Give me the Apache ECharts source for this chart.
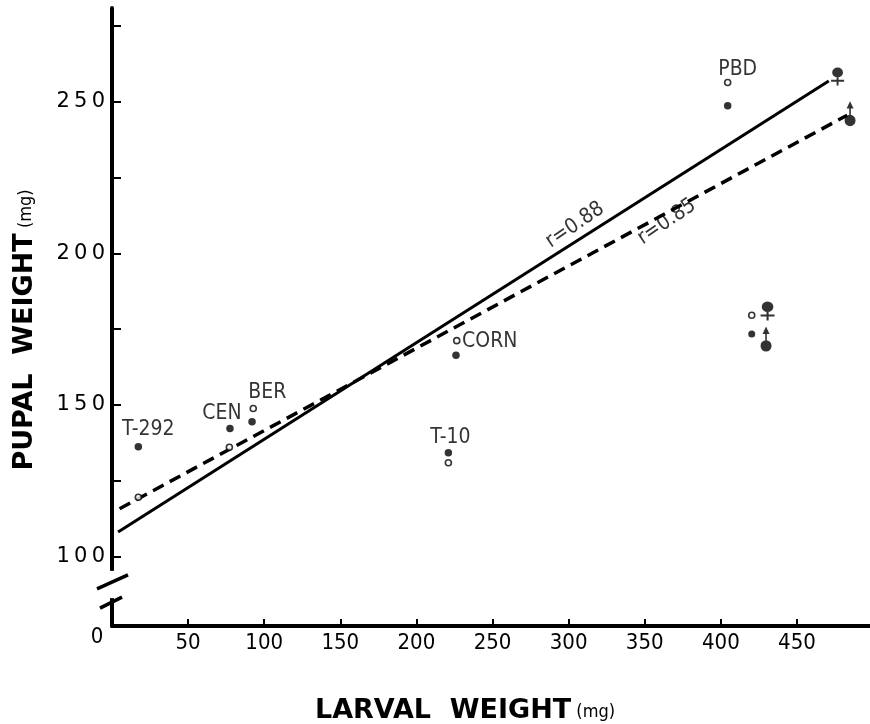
<!DOCTYPE html>
<html><head><meta charset="utf-8">
<script src="https://cdn.jsdelivr.net/npm/echarts@6/dist/echarts.min.js"></script>
<style>html,body{margin:0;padding:0;background:#fff}#c{width:870px;height:724px}</style>
</head><body><div id="c"></div>
<script>
// ---- data ----
const strains      = ['T-292', 'CEN', 'BER', 'T-10', 'CORN', 'PBD'];
const larvalFemale = [17.3, 77.1, 92.8, 221, 226.5, 404.5];
const pupalFemale  = [119.5, 136.0, 148.8, 130.9, 171.2, 256.4];
const larvalMale   = [17.3, 77.5, 92.0, 221, 226.0, 404.5];
const pupalMale    = [136.2, 142.2, 144.4, 134.2, 166.4, 248.7];
const femaleFit    = [[4, 108.0], [470.9, 256.9]];   // r=0.88
const maleFit      = [[5, 115.7], [483, 245.6]];     // r=0.85
const fitLabels    = ['r=0.88', 'r=0.85'];
const fitLabelAt   = [[304.2, 209.3], [364.5, 210.4]];
const sexSymbolAt  = [[476.7, 258.4], [484.9, 246.1]];   // ♀ / ♂ at line ends
const keyPointAt   = [[420.3, 179.6], [420.3, 173.4]];   // key: open = ♀, filled = ♂
const keySymbolAt  = [[430.7, 181.0], [429.7, 171.7]];
const xTicks  = [50, 100, 150, 200, 250, 300, 350, 400, 450];
const yTicks  = [100, 125, 150, 175, 200, 225, 250, 275];
const yLabels = [100, 150, 200, 250];

// ---- styling (not data) ----
const labelSide = { // which sex's point carries the strain label, and pixel offset
  'T-292': ['m', [10, -17]], 'CEN': ['m', [-8, -15]], 'BER': ['f', [14, -16]],
  'T-10': ['m', [2, -15]], 'CORN': ['f', [33, 1]], 'PBD': ['f', [10, -13]]
};
const FEMALE = 'path://M2,5 A5,5 0 1,1 12,5 A5,5 0 1,1 2,5 Z M6.1,9 L7.9,9 L7.9,18 L6.1,18 Z M1,12.3 L13,12.3 L13,14.2 L1,14.2 Z';
const MALE = 'path://M6,0 L9.5,7 L2.5,7 Z M5.2,5 L6.8,5 L6.8,14 L5.2,14 Z M0.5,18.5 A5.5,5.5 0 1,1 11.5,18.5 A5.5,5.5 0 1,1 0.5,18.5 Z';
const COND = 'DejaVu Sans Condensed';

function pts(xs, ys, sex) {
  return xs.map((x, i) => {
    const name = strains[i];
    const item = { name, value: [x, ys[i]] };
    const ls = labelSide[name];
    if (ls && ls[0] === sex) {
      item.label = { show: true, formatter: name, position: 'inside', offset: ls[1],
        color: '#000', fontFamily: COND, fontSize: 21 };
    }
    return item;
  });
}

const chart = echarts.init(document.getElementById('c'), null, { renderer: 'canvas' });
const option = {
  animation: false,
  backgroundColor: '#fff',
  grid: { left: 112, right: 0, top: 8, bottom: 98, containLabel: false, outerBoundsMode: 'none' },
  xAxis: {
    type: 'value', min: 0, max: 498,
    axisLine: { show: true, onZero: false, lineStyle: { color: '#000', width: 4 } },
    axisTick: { show: true, inside: true, length: 7, customValues: xTicks, lineStyle: { color: '#000', width: 2 } },
    axisLabel: { customValues: xTicks, color: '#000', fontFamily: COND, fontSize: 22, margin: 6 },
    splitLine: { show: false },
    name: '{b|LARVAL  WEIGHT}{s| (mg)}',
    nameLocation: 'middle', nameGap: 71,
    nameTextStyle: { padding: [0, 52, 0, 0],
      rich: { b: { fontFamily: 'DejaVu Sans', fontWeight: 'bold', fontSize: 27, color: '#000' },
              s: { fontFamily: COND, fontSize: 18, color: '#000', padding: [4, 0, 0, 0] } } }
  },
  yAxis: {
    type: 'value', min: 77, max: 281,
    axisLine: { show: true, onZero: false, lineStyle: { color: '#000', width: 4 } },
    axisTick: { show: true, inside: true, length: 9, customValues: yTicks, lineStyle: { color: '#000', width: 2 } },
    axisLabel: { customValues: yLabels, color: '#000', fontFamily: 'DejaVu Sans', fontSize: 21, margin: 7,
      formatter: v => String(v).split('').join('\u2009') },
    splitLine: { show: false },
    name: '{b|PUPAL  WEIGHT}{s| (mg)}',
    nameLocation: 'middle', nameGap: 74, nameRotate: 90,
    nameTextStyle: { padding: [0, 26, 0, 0],
      rich: { b: { fontFamily: 'DejaVu Sans', fontWeight: 'bold', fontSize: 27, color: '#000' },
              s: { fontFamily: COND, fontSize: 18, color: '#000', padding: [4, 0, 0, 0] } } }
  },
  series: [
    { type: 'line', data: femaleFit, symbol: 'none', clip: false, z: 2,
      lineStyle: { color: '#000', width: 3 } },
    { type: 'line', data: maleFit, symbol: 'none', clip: false, z: 2,
      lineStyle: { color: '#000', width: 3.5, type: [12, 7] } },
    { type: 'scatter', name: '♀', data: pts(larvalFemale, pupalFemale, 'f'), symbol: 'circle', symbolSize: 6, z: 4,
      itemStyle: { color: '#fff', borderColor: '#000', borderWidth: 1.6 } },
    { type: 'scatter', name: '♂', data: pts(larvalMale, pupalMale, 'm'), symbol: 'circle', symbolSize: 7.5, z: 4,
      itemStyle: { color: '#000' } },
    { type: 'scatter', data: fitLabelAt.map((p, i) => ({ value: p, name: fitLabels[i] })), symbolSize: 0, z: 5,
      label: { show: true, position: 'inside', formatter: '{b}', rotate: 34, color: '#000',
        fontFamily: COND, fontSize: 21 } },
    { type: 'scatter', clip: false, z: 5, itemStyle: { color: '#000' },
      data: [
        { value: sexSymbolAt[0], symbol: FEMALE, symbolSize: [13, 18] },
        { value: sexSymbolAt[1], symbol: MALE, symbolSize: [11, 25] },
        { value: keySymbolAt[0], symbol: FEMALE, symbolSize: [14, 19] },
        { value: keySymbolAt[1], symbol: MALE, symbolSize: [11, 25] }
      ] },
    { type: 'scatter', z: 5,
      data: [
        { value: keyPointAt[0], symbol: 'circle', symbolSize: 6, itemStyle: { color: '#fff', borderColor: '#000', borderWidth: 1.6 } },
        { value: keyPointAt[1], symbol: 'circle', symbolSize: 7, itemStyle: { color: '#000' } }
      ] }
  ]
};
chart.setOption(option);

// axis break and origin label
const brkTop = chart.convertToPixel({ gridIndex: 0 }, [0, 95.2]);
const brkBot = chart.convertToPixel({ gridIndex: 0 }, [0, 86.2]);
const origin = chart.convertToPixel({ gridIndex: 0 }, [0, 77]);
chart.setOption({
  graphic: [
    { type: 'rect', z: 100, shape: { x: brkTop[0] - 4, y: brkTop[1], width: 8, height: brkBot[1] - brkTop[1] }, style: { fill: '#fff' } },
    { type: 'line', z: 101, shape: { x1: brkTop[0] - 15, y1: brkTop[1] + 18, x2: brkTop[0] + 16, y2: brkTop[1] + 4 }, style: { stroke: '#000', lineWidth: 3.5 } },
    { type: 'line', z: 101, shape: { x1: brkTop[0] - 12, y1: brkBot[1] + 10, x2: brkTop[0] + 10, y2: brkBot[1] - 1 }, style: { stroke: '#000', lineWidth: 3.5 } },
    { type: 'text', z: 101, style: { text: '0', x: origin[0] - 15, y: origin[1] + 11, align: 'center', verticalAlign: 'middle',
      fill: '#000', font: '22px "DejaVu Sans Condensed"' } }
  ]
});
</script></body></html>
